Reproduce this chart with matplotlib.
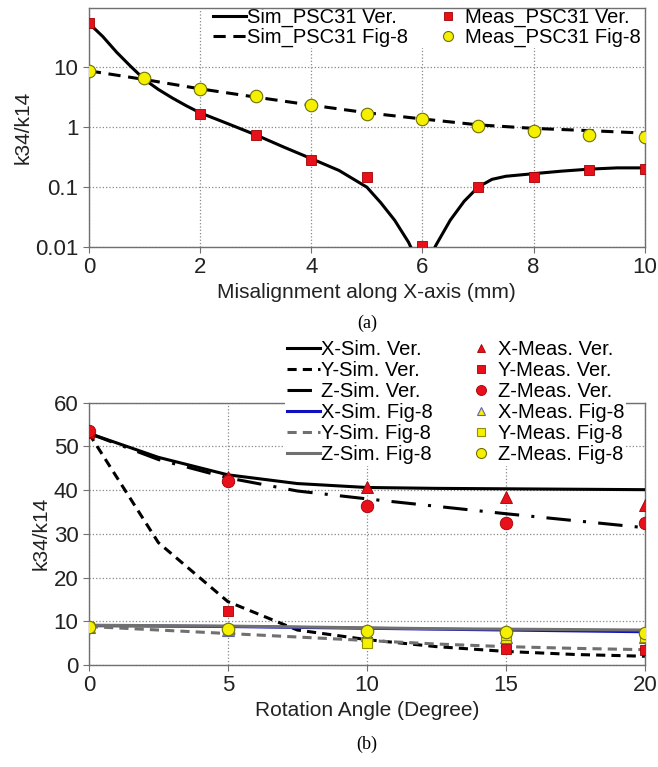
import numpy as np
import matplotlib
matplotlib.use('Agg')
import matplotlib.pyplot as plt
from matplotlib.ticker import FixedLocator, FixedFormatter, NullLocator

plt.rcParams['font.family'] = ['Liberation Sans', 'DejaVu Sans']

# ---- (a) misalignment along X ----
x_meas = [0, 1, 2, 3, 4, 5, 6, 7, 8, 9, 10]
meas_ver = [55, np.nan, 1.7, 0.75, 0.28, 0.15, 0.0105, 0.1, 0.15, 0.19, 0.2]
meas_fig8 = [8.8, 6.6, 4.4, 3.3, 2.4, 1.7, 1.4, 1.05, 0.88, 0.75, 0.68]

x_sim_ver = [0, 0.25, 0.5, 0.75, 1, 1.25, 1.5, 1.75, 2, 2.5, 3, 3.5, 4, 4.5,
             5, 5.25, 5.5, 5.75, 5.9, 6.1, 6.25, 6.5, 6.75, 7, 7.25, 7.5, 8,
             8.5, 9, 9.5, 10]
sim_ver = [55, 33, 18, 10.5, 6.3, 4.3, 3.1, 2.3, 1.75, 1.15, 0.75, 0.47, 0.3,
           0.19, 0.1, 0.055, 0.028, 0.012, 0.006, 0.006, 0.011, 0.028, 0.058,
           0.1, 0.135, 0.152, 0.168, 0.185, 0.2, 0.21, 0.21]
x_sim_fig8 = [0, 1, 2, 3, 4, 5, 6, 7, 8, 9, 10]
sim_fig8 = [8.8, 6.3, 4.4, 3.2, 2.35, 1.75, 1.38, 1.1, 0.96, 0.88, 0.8]

# ---- (b) rotation angle ----
ang = [0, 5, 10, 15, 20]
ang_sim = [0, 2.5, 5, 7.5, 10, 12.5, 15, 17.5, 20]
x_sim_v = [53, 47.5, 43.5, 41.5, 40.6, 40.4, 40.3, 40.2, 40.1]
y_sim_v = [53, 28, 14.5, 8, 5.8, 4.2, 3.1, 2.4, 2.0]
z_sim_v = [53, 47, 42.8, 39.8, 38.0, 36.3, 34.6, 33.0, 31.4]
x_sim_f = [9.0, 8.9, 8.8, 8.6, 8.4, 8.2, 8.0, 7.8, 7.6]
y_sim_f = [8.8, 8.0, 7.2, 6.4, 5.6, 4.8, 4.2, 3.8, 3.5]
z_sim_f = [9.1, 9.0, 8.9, 8.7, 8.5, 8.3, 8.2, 8.1, 8.0]

x_meas_v = [53.5, 43, 40.6, 38.5, 36.5]
y_meas_v = [53, 12.4, 5.2, 3.7, 3.4]
z_meas_v = [53.5, 42, 36.3, 32.5, 32.5]
x_meas_f = [8.8, 8.0, 6.8, 6.5, 6.3]
y_meas_f = [8.8, 8.0, 5.0, 6.8, 6.5]
z_meas_f = [8.8, 8.2, 7.8, 7.6, 7.3]

fig = plt.figure(figsize=(6.58, 7.67), dpi=100)
ax1 = fig.add_axes([0.135, 0.678, 0.845, 0.312])
ax2 = fig.add_axes([0.135, 0.133, 0.845, 0.342])

spine_col = '#707070'
grid_kw = dict(color='#888888', linestyle=':', linewidth=0.9)
txt_col = '#222222'

# panel a
ax1.set_yscale('log')
ax1.plot(x_sim_ver, sim_ver, color='black', lw=2.2, label='Sim_PSC31 Ver.', zorder=3)
ax1.plot(x_sim_fig8, sim_fig8, color='black', lw=2.2, ls=(0, (4, 2.5)),
         label='Sim_PSC31 Fig-8', zorder=3)
ax1.plot(x_meas, meas_ver, 's', color='#e8101a', mec='#a00000', mew=0.6, ms=7,
         ls='none', label='Meas_PSC31 Ver.', zorder=4)
ax1.plot(x_meas, meas_fig8, 'o', color='#f5f000', mec='#707000', mew=0.8, ms=9,
         ls='none', label='Meas_PSC31 Fig-8', zorder=4)
ax1.set_xlim(0, 10)
ax1.set_ylim(0.01, 100)
ax1.xaxis.set_major_locator(FixedLocator([0, 2, 4, 6, 8, 10]))
ax1.yaxis.set_major_locator(FixedLocator([0.01, 0.1, 1, 10]))
ax1.yaxis.set_major_formatter(FixedFormatter(['0.01', '0.1', '1', '10']))
ax1.yaxis.set_minor_locator(NullLocator())
ax1.grid(True, **grid_kw)
ax1.set_xlabel('Misalignment along X-axis (mm)', fontsize=15, color=txt_col, labelpad=3)
ax1.set_ylabel('k34/k14', fontsize=15, color=txt_col, labelpad=2)
leg1 = ax1.legend(ncol=2, loc='upper right', bbox_to_anchor=(0.998, 1.012),
                  fontsize=14.5, frameon=True, fancybox=False,
                  edgecolor='none', framealpha=1, handlelength=1.6, handletextpad=0.05,
                  columnspacing=1.2, borderpad=0.05, labelspacing=0.05,
                  borderaxespad=0.1, markerscale=0.8)
leg1.set_zorder(2.4)  # keep the top spine visible over the legend

# panel b
ax2.plot(ang_sim, x_sim_v, color='black', lw=2.2, label='X-Sim. Ver.', zorder=3)
ax2.plot(ang_sim, y_sim_v, color='black', lw=2.2, ls=(0, (3, 2)),
         label='Y-Sim. Ver.', zorder=3)
ax2.plot(ang_sim, z_sim_v, color='black', lw=2.2, ls=(0, (8, 4, 1, 4)),
         label='Z-Sim. Ver.', zorder=3)
ax2.plot(ang_sim, x_sim_f, color='#1010c0', lw=2.2, label='X-Sim. Fig-8', zorder=3)
ax2.plot(ang_sim, y_sim_f, color='#707070', lw=2.2, ls=(0, (3, 2)),
         label='Y-Sim. Fig-8', zorder=3)
ax2.plot(ang_sim, z_sim_f, color='#707070', lw=2.2, label='Z-Sim. Fig-8', zorder=3)

ax2.plot(ang, x_meas_v, '^', color='#e8101a', mec='#a00000', mew=0.6, ms=8,
         ls='none', label='X-Meas. Ver.', zorder=4)
ax2.plot(ang, y_meas_v, 's', color='#e8101a', mec='#a00000', mew=0.6, ms=7,
         ls='none', label='Y-Meas. Ver.', zorder=4)
ax2.plot(ang, z_meas_v, 'o', color='#e8101a', mec='#a00000', mew=0.6, ms=9,
         ls='none', label='Z-Meas. Ver.', zorder=5)
ax2.plot(ang, x_meas_f, '^', color='#f5f000', mec='#6060c0', mew=0.8, ms=8,
         ls='none', label='X-Meas. Fig-8', zorder=4)
ax2.plot(ang, y_meas_f, 's', color='#f5f000', mec='#909000', mew=0.8, ms=7,
         ls='none', label='Y-Meas. Fig-8', zorder=4)
ax2.plot(ang, z_meas_f, 'o', color='#f5f000', mec='#707000', mew=0.8, ms=9,
         ls='none', label='Z-Meas. Fig-8', zorder=5)
ax2.set_xlim(0, 20)
ax2.set_ylim(0, 60)
ax2.xaxis.set_major_locator(FixedLocator([0, 5, 10, 15, 20]))
ax2.yaxis.set_major_locator(FixedLocator([0, 10, 20, 30, 40, 50, 60]))
ax2.grid(True, **grid_kw)
ax2.set_xlabel('Rotation Angle (Degree)', fontsize=15, color=txt_col, labelpad=3)
ax2.set_ylabel('k34/k14', fontsize=15, color=txt_col, labelpad=2)
leg2 = ax2.legend(ncol=2, loc='lower right', bbox_to_anchor=(0.985, 0.72),
                  fontsize=14.5, frameon=True, fancybox=False, edgecolor='none',
                  framealpha=1, handlelength=1.6, handletextpad=0.05,
                  columnspacing=1.6, borderpad=0.1, labelspacing=0.1,
                  markerscale=0.8)

for ax in (ax1, ax2):
    for sp in ax.spines.values():
        sp.set_color(spine_col)
        sp.set_linewidth(1.0)
    ax.tick_params(axis='both', which='major', labelsize=16, colors=txt_col,
                   direction='out', length=4, color=spine_col)
    ax.set_axisbelow(True)

fig.text(0.558, 0.579, '(a)', ha='center', va='center', fontsize=13,
         family=['Liberation Serif', 'DejaVu Serif'])
fig.text(0.558, 0.029, '(b)', ha='center', va='center', fontsize=13,
         family=['Liberation Serif', 'DejaVu Serif'])

fig.savefig('out.png', dpi=100)
